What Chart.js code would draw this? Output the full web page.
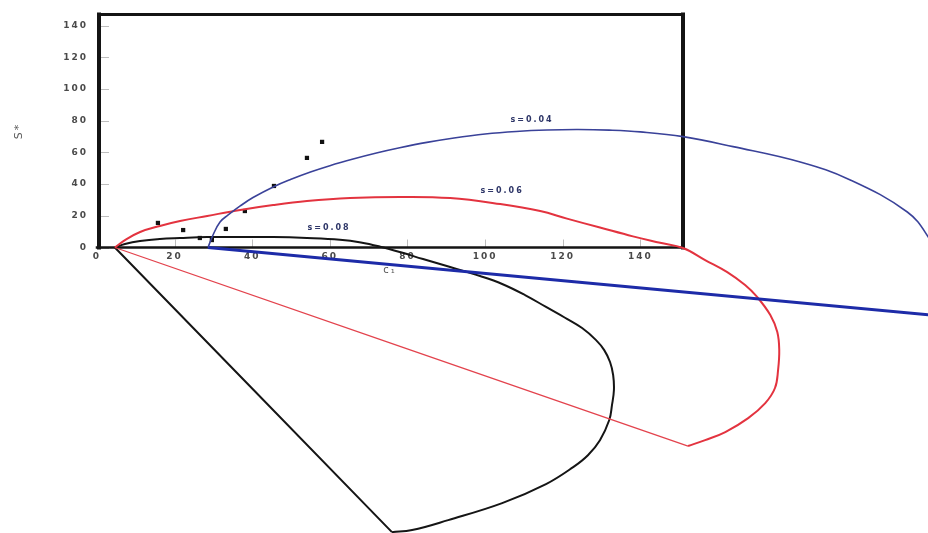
<!DOCTYPE html>
<html>
<head>
<meta charset="utf-8">
<script src="https://cdn.jsdelivr.net/npm/chart.js@4.4.1/dist/chart.umd.min.js"></script>
<style>
  html, body { margin: 0; padding: 0; background: #fff; overflow: hidden; }
  canvas { display: block; }
</style>
</head>
<body>
<canvas id="c" width="928" height="533"></canvas>
<script>
// Axis ticks
const xTicks = [0, 20, 40, 60, 80, 100, 120, 140];
const yTicks = [0, 20, 40, 60, 80, 100, 120, 140];

// Measured points (c1, S*)
const measured = [
  [15.7, 15.5], [22.2, 11.0], [26.5, 6.0], [29.6, 4.7], [33.2, 11.7],
  [38.1, 23.0], [45.6, 38.8], [54.1, 56.5], [58.0, 66.6]
];

// s = 0.04 contour: arc and closing chord
const arc004 = [
  [28.6, 0], [29.9, 7.9], [31.7, 16.1], [33.8, 20.5], [36.9, 26.2], [40.2, 31.5],
  [45.4, 38.2], [50.0, 43.0], [55.0, 47.6], [60.0, 51.6], [66.0, 55.8], [72.0, 59.6],
  [78.0, 62.9], [85.0, 66.3], [92.0, 69.1], [100.0, 71.6], [108.0, 73.2], [116.0, 74.1],
  [124.0, 74.4], [132.0, 74.0], [140.0, 72.9], [151.0, 69.9], [163.9, 63.6],
  [181.2, 53.9], [194.1, 42.6], [208.8, 22.4], [214.2, 6.6],
  [218.6, -14.2], [219.3, -33.1], [217.3, -43.2]
];
const chord004 = [[217.3, -43.2], [28.6, 0]];

// s = 0.06 contour
const arc006 = [
  [4.6, 0], [7.2, 4.7], [11.1, 9.8], [16.2, 13.6], [21.4, 16.7], [28.4, 19.9],
  [36.9, 23.7], [45.4, 26.8], [54.1, 29.3], [65.2, 31.2], [78.1, 31.9], [91.0, 31.2],
  [103.9, 27.4], [114.2, 23.0], [121.1, 18.2], [129.6, 12.6], [138.1, 7.0],
  [145.1, 3.0], [151.0, -0.3], [156.7, -7.9], [162.4, -15.5], [167.0, -23.7],
  [170.1, -31.2], [173.5, -42.6], [175.3, -53.3], [175.8, -64.7], [175.5, -77.3],
  [174.7, -88.6], [172.2, -98.1], [167.8, -107.6], [161.9, -116.4], [156.7, -121.5],
  [152.3, -125.2]
];
const chord006 = [[152.3, -125.2], [4.6, 0]];

// s = 0.08 contour
const arc008 = [
  [4.6, 0], [7.2, 2.2], [11.1, 4.1], [16.2, 5.4], [21.4, 6.0], [28.4, 6.6],
  [36.9, 6.6], [45.4, 6.6], [54.1, 6.0], [62.6, 4.9], [68.0, 3.2], [73.0, 0.5],
  [78.5, -3.2], [84.0, -7.3], [91.0, -12.3], [98.7, -18.0], [104.4, -23.0], [110.3, -30.0],
  [115.7, -37.5], [120.6, -44.3], [125.0, -50.8], [128.6, -58.4], [130.7, -64.7],
  [132.2, -72.2], [133.0, -80.4], [133.2, -89.9], [132.7, -99.4], [132.0, -108.8],
  [129.6, -121.5], [126.5, -131.0], [122.7, -138.5], [115.7, -149.2], [104.4, -161.2],
  [90.5, -171.9], [81.2, -178.2], [76.0, -179.5]
];
const chord008 = [[76.0, -179.5], [4.6, 0]];

// Curve captions and their anchor values
const captions = ['s=0.04', 's=0.06', 's=0.08'];
const captionAt = [[112.1, 80.4], [104.4, 35.6], [59.8, 12.3]];

const pts = a => a.map(([x, y]) => ({ x, y }));

function curve(data, color, width) {
  return {
    type: 'scatter', data: pts(data), showLine: true, borderColor: color,
    borderWidth: width, pointRadius: 0, tension: 0.4, capBezierPoints: false,
    clip: false, fill: false
  };
}

const frame = {
  id: 'frame',
  beforeDraw(chart) {
    chart.ctx.letterSpacing = '2px';
  },
  beforeDatasetsDraw(chart) {
    const { ctx, chartArea: a, scales: { x, y } } = chart;
    ctx.save();
    ctx.strokeStyle = '#bdbdbd';
    ctx.lineWidth = 1;
    ctx.beginPath();
    xTicks.forEach(v => {
      const px = Math.round(x.getPixelForValue(v)) + 0.5;
      ctx.moveTo(px, a.bottom); ctx.lineTo(px, a.bottom - 8);
    });
    yTicks.forEach(v => {
      const py = Math.round(y.getPixelForValue(v)) + 0.5;
      ctx.moveTo(a.left, py); ctx.lineTo(a.left + 12, py);
    });
    ctx.stroke();
    ctx.strokeStyle = '#141414';
    ctx.lineCap = 'square';
    ctx.lineWidth = 4;
    ctx.beginPath();
    ctx.moveTo(a.left + 2, a.bottom); ctx.lineTo(a.left + 2, a.top);
    ctx.moveTo(a.right, a.top); ctx.lineTo(a.right, a.bottom);
    ctx.stroke();
    ctx.lineWidth = 3;
    ctx.beginPath();
    ctx.moveTo(a.left + 2, a.top); ctx.lineTo(a.right, a.top);
    ctx.stroke();
    ctx.lineWidth = 2.5;
    ctx.beginPath();
    ctx.moveTo(a.left, a.bottom); ctx.lineTo(a.right, a.bottom);
    ctx.stroke();
    ctx.restore();
  },
  afterDatasetsDraw(chart) {
    const { ctx, scales: { x, y } } = chart;
    ctx.save();
    ctx.font = 'bold 8px "DejaVu Sans"';
    ctx.fillStyle = '#2e3668';
    ctx.textAlign = 'center';
    ctx.textBaseline = 'middle';
    ctx.letterSpacing = '2px';
    captions.forEach((t, i) => {
      ctx.fillText(t, x.getPixelForValue(captionAt[i][0]), y.getPixelForValue(captionAt[i][1]));
    });
    ctx.restore();
  }
};

new Chart(document.getElementById('c'), {
  type: 'scatter',
  data: {
    datasets: [
      curve(arc004, '#3a4299', 1.6),
      curve(chord004, '#1d2ba8', 3),
      curve(arc006, '#e3333f', 2),
      curve(chord006, '#e3434d', 1.3),
      curve(arc008, '#151515', 2),
      curve(chord008, '#151515', 2),
      {
        type: 'scatter', data: pts(measured), pointStyle: 'rect', pointRadius: 3,
        backgroundColor: '#111', borderColor: '#111', borderWidth: 0, clip: false
      }
    ]
  },
  options: {
    responsive: false,
    animation: false,
    devicePixelRatio: 1,
    layout: { padding: { left: 0, top: 14, right: 245, bottom: 256.5 } },
    plugins: { legend: { display: false }, tooltip: { enabled: false } },
    scales: {
      x: {
        type: 'linear', min: 0, max: 151,
        afterFit(s) { s.height = 29; },
        border: { display: false },
        grid: { display: false, drawTicks: false },
        ticks: {
          stepSize: 20, includeBounds: false, padding: 4, color: '#4a4a4a',
          font: { family: 'DejaVu Sans', size: 9, weight: 'bold' }, maxRotation: 0
        },
        title: {
          display: true, text: 'c\u2081', color: '#555', padding: { top: 0, bottom: 0 },
          font: { family: 'DejaVu Sans', size: 10 }
        }
      },
      y: {
        type: 'linear', min: 0, max: 147,
        afterFit(s) { s.width = 97; },
        border: { display: false },
        grid: { display: false, drawTicks: false },
        ticks: {
          stepSize: 20, includeBounds: false, padding: 9, color: '#4a4a4a',
          font: { family: 'DejaVu Sans', size: 9, weight: 'bold' }
        },
        title: {
          display: true, text: 'S*', color: '#555', padding: { top: 13, bottom: 0 },
          font: { family: 'DejaVu Sans', size: 11 }
        }
      }
    }
  },
  plugins: [frame]
});
</script>
</body>
</html>
